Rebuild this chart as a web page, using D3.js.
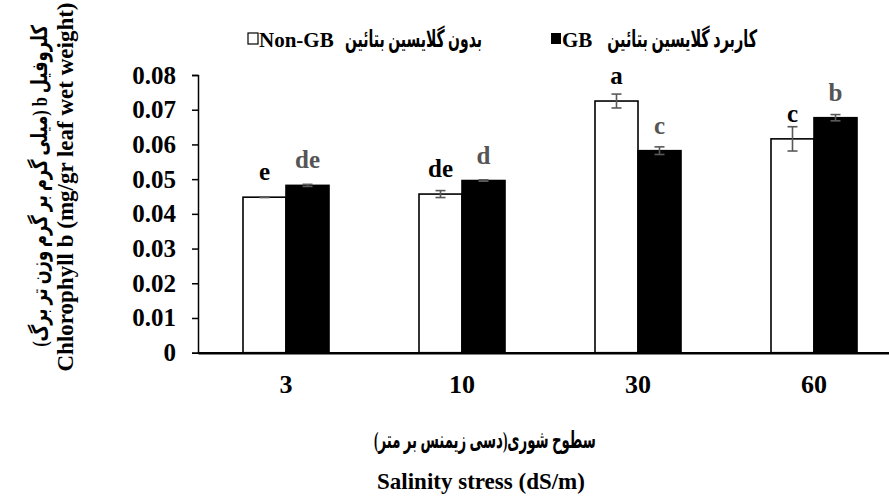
<!DOCTYPE html>
<html>
<head>
<meta charset="utf-8">
<script src="https://cdn.jsdelivr.net/npm/d3@7"></script>
<style>
  html, body { margin: 0; padding: 0; background: #fff; }
  svg { display: block; }
  text { font-family: "Liberation Serif", "DejaVu Sans", serif; font-weight: bold; }
</style>
</head>
<body>
<svg id="chart" width="889" height="497"></svg>
<script>
// Salinity levels (dS/m)
const categories = ["3", "10", "30", "60"];
// Chlorophyll b (mg/gr leaf wet weight), without glycine betaine
const nonGB = [0.0448, 0.0457, 0.0725, 0.0616];
const nonGBErr = [0.0001, 0.001, 0.002, 0.0035];
const nonGBLetters = ["e", "de", "a", "c"];
// Chlorophyll b with glycine betaine applied
const gb = [0.0482, 0.0496, 0.0582, 0.0677];
const gbErr = [0.0003, 0.0002, 0.0011, 0.0009];
const gbLetters = ["de", "d", "c", "b"];
// Y axis ticks
const yTicks = [0, 0.01, 0.02, 0.03, 0.04, 0.05, 0.06, 0.07, 0.08];

const series = [
  { key: "nonGB", values: nonGB, err: nonGBErr, letters: nonGBLetters,
    fill: "#ffffff", stroke: "#000000", letterColor: "#000000" },
  { key: "gb", values: gb, err: gbErr, letters: gbLetters,
    fill: "#000000", stroke: "#000000", letterColor: "#555555" }
];

const svg = d3.select("#chart");
const x0 = 198, x1 = 902, yTop = 75, yBase = 352.7;

const x = d3.scaleBand().domain(categories).range([x0, x1]).paddingInner(0).paddingOuter(0);
const y = d3.scaleLinear().domain([0, 0.08]).range([yBase, yTop]);
const barW = 43;
const sub = d3.scaleBand().domain(series.map(s => s.key)).range([-barW, barW]);

// Squeeze a text horizontally (along its own baseline) to a given width
function placeText(transform, size, str, width, anchor, rtl) {
  const t = svg.append("text")
    .attr("font-size", size)
    .attr("text-anchor", anchor)
    .text(str);
  if (rtl) t.attr("direction", "rtl");
  const natural = t.node().getComputedTextLength();
  const sx = width ? Math.min(1, width / natural) : 1;
  t.attr("transform", `${transform} scale(${sx},1)`);
  return t;
}

// Bars
const groups = svg.append("g").selectAll("g")
  .data(series).join("g");

groups.selectAll("rect")
  .data(s => s.values.map((v, i) => ({ s, v, i })))
  .join("rect")
  .attr("x", d => x(categories[d.i]) + x.bandwidth() / 2 + sub(d.s.key))
  .attr("y", d => y(d.v))
  .attr("width", sub.bandwidth())
  .attr("height", d => y(0) - y(d.v))
  .attr("fill", d => d.s.fill)
  .attr("stroke", d => d.s.stroke)
  .attr("stroke-width", 1.6);

// Error bars
const errG = svg.append("g").attr("stroke", "#595959").attr("stroke-width", 1.6);
series.forEach(s => {
  s.values.forEach((v, i) => {
    const cx = x(categories[i]) + x.bandwidth() / 2 + sub(s.key) + sub.bandwidth() / 2;
    const lo = y(v - s.err[i]), hi = y(v + s.err[i]);
    errG.append("line").attr("x1", cx).attr("x2", cx).attr("y1", lo).attr("y2", hi);
    errG.append("line").attr("x1", cx - 5).attr("x2", cx + 5).attr("y1", lo).attr("y2", lo);
    errG.append("line").attr("x1", cx - 5).attr("x2", cx + 5).attr("y1", hi).attr("y2", hi);
  });
});

// Significance letters
series.forEach(s => {
  svg.append("g").selectAll("text")
    .data(s.values)
    .join("text")
    .attr("x", (v, i) => x(categories[i]) + x.bandwidth() / 2 + sub(s.key) + sub.bandwidth() / 2)
    .attr("y", v => y(v) - 17)
    .attr("text-anchor", "middle")
    .attr("font-size", 25)
    .attr("fill", s.letterColor)
    .text((v, i) => s.letters[i]);
});

// Y axis
const yAxis = svg.append("g")
  .attr("transform", `translate(${x0},0)`)
  .call(d3.axisLeft(y).tickValues(yTicks).tickSize(6).tickPadding(16)
    .tickFormat(d => d === 0 ? "0" : d3.format(".2f")(d)));
yAxis.select(".domain").attr("stroke", "#000").attr("stroke-width", 1.5);
yAxis.selectAll(".tick line").attr("stroke", "#000").attr("stroke-width", 1.5);
yAxis.selectAll(".tick text")
  .attr("font-size", 25).attr("fill", "#000")
  .attr("font-family", "Liberation Serif").attr("font-weight", "bold");

// X axis
const xAxis = svg.append("g")
  .attr("transform", `translate(0,${yBase})`)
  .call(d3.axisBottom(x).tickSize(0).tickPadding(22));
xAxis.select(".domain").attr("stroke", "#000").attr("stroke-width", 2.4);
xAxis.selectAll(".tick text")
  .attr("font-size", 26).attr("fill", "#000")
  .attr("font-family", "Liberation Serif").attr("font-weight", "bold");

// Legend
svg.append("rect").attr("x", 248).attr("y", 33).attr("width", 10).attr("height", 11)
  .attr("fill", "#fff").attr("stroke", "#000").attr("stroke-width", 1.2);
svg.append("text").attr("x", 259).attr("y", 47).attr("font-size", 21).text("Non-GB");
placeText("translate(482,47)", 24, "بدون گلایسین بتائین", 137, "end", false);
svg.append("rect").attr("x", 551).attr("y", 33).attr("width", 10).attr("height", 11)
  .attr("fill", "#000");
svg.append("text").attr("x", 562).attr("y", 47).attr("font-size", 21).text("GB");
placeText("translate(757,47)", 24, "کاربرد گلایسین بتائین", 150, "end", false);

// Y axis titles
placeText("translate(47,186) rotate(-90)", 22, "کلروفیل b (میلی گرم بر گرم وزن تر برگ)", 322, "middle", true);
svg.append("text")
  .attr("transform", "translate(73,187) rotate(-90)")
  .attr("text-anchor", "middle").attr("font-size", 23)
  .text("Chlorophyll b (mg/gr leaf wet weight)");

// X axis titles
placeText("translate(485,448)", 24, "سطوح شوری(دسی زیمنس بر متر)", 222, "middle", true);
svg.append("text")
  .attr("x", 481).attr("y", 489)
  .attr("text-anchor", "middle").attr("font-size", 23)
  .text("Salinity stress (dS/m)");
</script>
</body>
</html>
